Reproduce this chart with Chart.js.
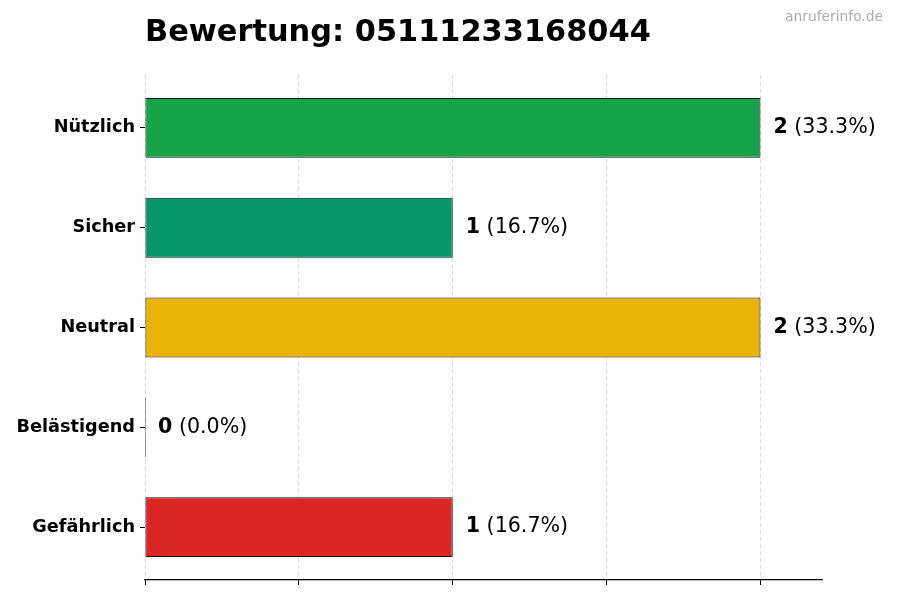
<!DOCTYPE html>
<html>
<head>
<meta charset="utf-8">
<title>Bewertung</title>
<script src="https://cdn.jsdelivr.net/npm/chart.js@4/dist/chart.umd.min.js"></script>
<style>
  html, body { margin: 0; padding: 0; background: #fff; }
  canvas { display: block; }
</style>
</head>
<body>
<canvas id="chart" width="900" height="600"></canvas>
<script>
// Rating data
var categories = ['Nützlich', 'Sicher', 'Neutral', 'Belästigend', 'Gefährlich'];
var counts = [2, 1, 2, 0, 1];
var barColors = ['#16a34a', '#059669', '#eab308', '#f97316', '#dc2626'];
var xTicks = [0, 0.5, 1, 1.5, 2];

var titleText = 'Bewertung: 05111233168044';
var watermarkText = 'anruferinfo.de';
var FONT = '"DejaVu Sans", "Liberation Sans", sans-serif';

var total = counts.reduce(function (a, b) { return a + b; }, 0);

// bars positioned on a numeric index axis (0 = top row)
var points = counts.map(function (c, i) { return { x: c, y: i }; });

// Title, watermark and value labels next to each bar
var decorations = {
    id: 'decorations',
    afterDatasetsDraw: function (chart) {
        var ctx = chart.ctx;
        var area = chart.chartArea;
        ctx.save();

        ctx.fillStyle = '#000';
        ctx.font = 'bold 30.4px ' + FONT;
        ctx.textAlign = 'left';
        ctx.textBaseline = 'alphabetic';
        ctx.fillText(titleText, area.left, 41);

        ctx.fillStyle = '#aaaaaa';
        ctx.font = '13.8px ' + FONT;
        ctx.textAlign = 'right';
        ctx.fillText(watermarkText, 883, 21);

        var meta = chart.getDatasetMeta(0);
        ctx.textBaseline = 'middle';
        ctx.textAlign = 'left';
        meta.data.forEach(function (bar, i) {
            var x = chart.scales.x.getPixelForValue(counts[i]) + 13;
            var y = bar.y;
            var pct = total ? (counts[i] / total * 100).toFixed(1) : '0.0';
            ctx.fillStyle = '#000';
            ctx.font = 'bold 20.6px ' + FONT;
            var num = String(counts[i]);
            ctx.fillText(num, x, y);
            var w = ctx.measureText(num).width;
            ctx.font = '20.6px ' + FONT;
            ctx.fillText(' (' + pct + '%)', x + w, y);
        });
        ctx.restore();
    }
};

new Chart(document.getElementById('chart'), {
    type: 'bar',
    data: {
        datasets: [{
            data: points,
            backgroundColor: barColors,
            borderColor: '#111',
            borderWidth: 1,
            borderSkipped: false,
            minBarLength: 1,
            barPercentage: 0.6,
            categoryPercentage: 1.0
        }]
    },
    options: {
        indexAxis: 'y',
        responsive: false,
        animation: false,
        layout: { padding: { top: 75, right: 78, bottom: 0, left: 0 } },
        plugins: {
            legend: { display: false },
            title: { display: false },
            tooltip: { enabled: false }
        },
        scales: {
            x: {
                type: 'linear',
                min: 0,
                max: 2.2,
                afterBuildTicks: function (scale) {
                    scale.ticks = xTicks.map(function (v) { return { value: v }; });
                },
                afterFit: function (scale) { scale.height = 20; },
                ticks: { display: false },
                grid: {
                    color: '#d0d0d0',
                    lineWidth: 0.8,
                    drawTicks: true,
                    tickLength: 5,
                    tickColor: '#000',
                    tickWidth: 1,
                    tickBorderDash: []
                },
                border: { display: true, color: '#000', width: 1.2, dash: [4, 3] }
            },
            y: {
                type: 'linear',
                reverse: true,
                offset: false,
                min: -0.53,
                max: categories.length - 1 + 0.53,
                afterBuildTicks: function (scale) {
                    scale.ticks = categories.map(function (c, i) { return { value: i }; });
                },
                afterFit: function (scale) { scale.width = 145; },
                ticks: {
                    color: '#000',
                    padding: 5,
                    font: { family: FONT, size: 17.7, weight: 'bold' },
                    callback: function (v) { return categories[v]; }
                },
                grid: {
                    offset: false,
                    drawOnChartArea: false,
                    drawTicks: true,
                    tickLength: 5,
                    tickColor: '#000',
                    tickWidth: 1
                },
                border: { display: false }
            }
        }
    },
    plugins: [decorations]
});
</script>
</body>
</html>
